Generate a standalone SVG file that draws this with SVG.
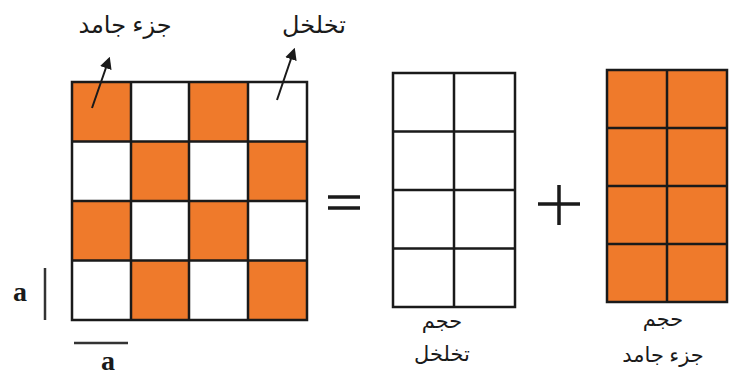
<svg xmlns="http://www.w3.org/2000/svg" width="738" height="383" viewBox="0 0 738 383">
<style>
.o{fill:#EF7A2B}
.g{fill:none;stroke:#1a1a1a;stroke-width:2.5}
.fa{font-family:"Noto Sans","DejaVu Sans",sans-serif;font-size:24px;fill:#1a1a1a}
.fb{font-family:"Noto Sans","DejaVu Sans",sans-serif;font-size:21px;fill:#1a1a1a}
.a{font-family:"Liberation Serif",serif;font-weight:bold;font-size:28px;fill:#1a1a1a}
.s{stroke:#1a1a1a;stroke-width:3.5;fill:none}
</style>
<defs>
<marker id="ah" viewBox="0 0 10 10" refX="8" refY="5" markerWidth="6" markerHeight="6" orient="auto">
<path d="M0,0 L10,5 L0,10 z" fill="#1a1a1a"/>
</marker>
</defs>
<rect width="738" height="383" fill="#fff"/>
<g id="checker">
<rect class="o" x="72" y="82" width="59" height="59.5"/>
<rect class="o" x="189" y="82" width="59" height="59.5"/>
<rect class="o" x="131" y="141.5" width="58" height="59.5"/>
<rect class="o" x="248" y="141.5" width="59" height="59.5"/>
<rect class="o" x="72" y="201" width="59" height="59.5"/>
<rect class="o" x="189" y="201" width="59" height="59.5"/>
<rect class="o" x="131" y="260.5" width="58" height="59.5"/>
<rect class="o" x="248" y="260.5" width="59" height="59.5"/>
<path class="g" d="M72,82H307V320H72Z M131,82V320 M189,82V320 M248,82V320 M72,141.5H307 M72,201H307 M72,260.5H307"/>
</g>
<g id="porous">
<path class="g" d="M393,73H515V307H393Z M454,73V307 M393,131.5H515 M393,190H515 M393,248.5H515"/>
</g>
<g id="solid">
<rect class="o" x="607" y="70" width="120" height="232"/>
<path class="g" d="M607,70H727V302H607Z M667,70V302 M607,128H727 M607,186H727 M607,244H727"/>
</g>
<g id="ops">
<path class="s" d="M328,197H360 M328,208H360"/>
<path class="s" d="M538,204H580 M559,185V225"/>
</g>
<g id="dims">
<path d="M45,268V320" stroke="#333" stroke-width="2.5"/>
<text class="a" x="20" y="301" text-anchor="middle">a</text>
<path d="M74,343H128" stroke="#333" stroke-width="2.5"/>
<text class="a" x="108" y="370" text-anchor="middle">a</text>
</g>
<g id="labels">
<text class="fa" x="125" y="33" text-anchor="middle" direction="rtl">جزء جامد</text>
<text class="fa" x="314" y="33" text-anchor="middle" direction="rtl">تخلخل</text>
<text class="fb" x="442" y="328" text-anchor="middle" direction="rtl">حجم</text>
<text class="fb" x="442" y="361" text-anchor="middle" direction="rtl">تخلخل</text>
<text class="fb" x="663" y="326" text-anchor="middle" direction="rtl">حجم</text>
<text class="fb" x="663" y="362" text-anchor="middle" direction="rtl">جزء جامد</text>
</g>
<g id="connectors">
<line x1="92" y1="108" x2="109" y2="59" stroke="#1a1a1a" stroke-width="2" marker-end="url(#ah)"/>
<line x1="277" y1="100" x2="294" y2="50" stroke="#1a1a1a" stroke-width="2" marker-end="url(#ah)"/>
</g>
</svg>
